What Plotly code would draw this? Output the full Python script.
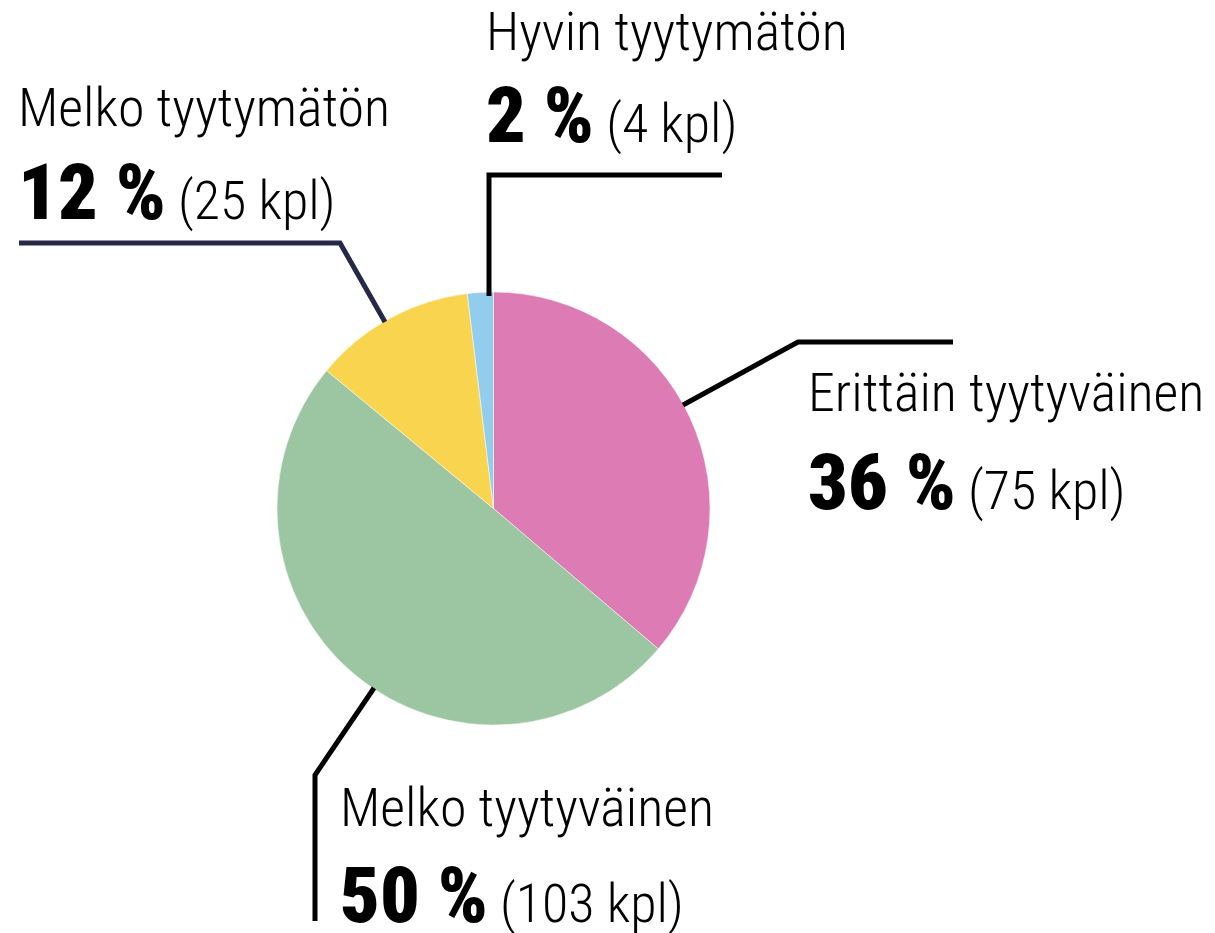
import plotly.graph_objects as go

# ---- data ----
categories = ["Erittäin tyytyväinen", "Melko tyytyväinen", "Melko tyytymätön", "Hyvin tyytymätön"]
counts = [75, 103, 25, 4]
percents = [36, 50, 12, 2]
colors = ["#DC7BB4", "#9CC5A1", "#F9D44E", "#92CDEE"]

W, H = 1215, 933
OFF = 8  # page body margin
FONT = "Roboto Condensed, Liberation Sans Narrow, Arial Narrow, DejaVu Sans Condensed, Roboto, sans-serif"

def px(x, y):
    return (x - OFF) / W, 1 - (y - OFF) / H

# pie geometry (pixels)
cx, cy, r = 493.5, 508.5, 216.5
x0, y0 = px(cx - r, cy + r)
x1, y1 = px(cx + r, cy - r)

fig = go.Figure()
fig.add_trace(go.Pie(
    labels=categories, values=counts, sort=False, direction="clockwise", rotation=0,
    marker=dict(colors=colors, line=dict(color="white", width=0.5)),
    textinfo="none", hoverinfo="label+value", showlegend=False,
    domain=dict(x=[x0, x1], y=[y0, y1]),
))

# leader lines (pixel paths) and label anchors (left x, first-line center y, second-line center y)
leaders = [
    ([(683, 405), (798, 342), (953, 342)], "#000000"),
    ([(374, 688), (315, 775), (315, 921)], "#000000"),
    ([(385, 322), (340, 243), (19, 243)], "#252947"),
    ([(489, 296), (489, 175), (722, 175)], "#000000"),
]
label_pos = [
    (806, 392, 482),
    (338, 807, 895),
    (16, 107, 193),
    (484, 31, 116),
]

shapes = []
for pts, col in leaders:
    d = ""
    for i, (x, y) in enumerate(pts):
        X, Y = px(x, y)
        d += ("M" if i == 0 else "L") + f"{X},{Y} "
    shapes.append(dict(type="path", path=d.strip(), xref="paper", yref="paper",
                       line=dict(color=col, width=5)))

annotations = []
for cat, n, p, (lx, ly1, ly2) in zip(categories, counts, percents, label_pos):
    X, Y1 = px(lx, ly1)
    _, Y2 = px(lx, ly2)
    annotations.append(dict(text=cat, x=X, y=Y1, xref="paper", yref="paper",
                            xanchor="left", yanchor="middle", showarrow=False,
                            font=dict(family=FONT, size=54, color="#000", weight=300)))
    annotations.append(dict(
        text=f"<span style='font-weight:900;font-size:78px'>{p} %</span> ({n} kpl)",
        x=X, y=Y2, xref="paper", yref="paper", xanchor="left", yanchor="middle",
        showarrow=False, font=dict(family=FONT, size=54, color="#000", weight=300)))

fig.update_layout(
    width=W, height=H, margin=dict(l=0, r=0, t=0, b=0),
    paper_bgcolor="white", plot_bgcolor="white",
    shapes=shapes, annotations=annotations,
)
fig.write_html("out.html")
